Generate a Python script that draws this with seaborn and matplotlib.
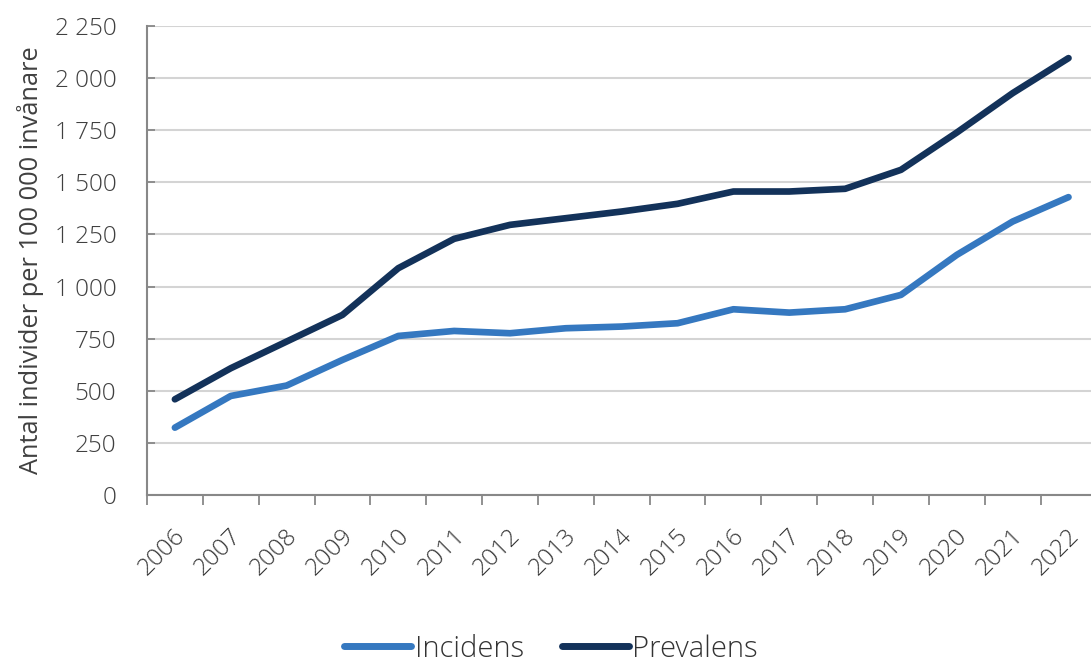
import matplotlib
matplotlib.use("Agg")
import matplotlib.pyplot as plt
import matplotlib.transforms as mtransforms
from matplotlib.ticker import FuncFormatter, FixedLocator
import seaborn as sns
import pandas as pd

years = list(range(2006, 2023))
incidens = [323, 475, 525, 648, 763, 787, 776, 800, 808, 824, 891, 875, 891, 960, 1152, 1312, 1429]
prevalens = [459, 608, 736, 864, 1088, 1229, 1296, 1328, 1360, 1397, 1456, 1456, 1469, 1560, 1739, 1928, 2096]
series_names = ["Incidens", "Prevalens"]
colors = {"Incidens": "#3578c0", "Prevalens": "#13325a"}
y_label = "Antal individer per 100 000 invånare"

df = pd.DataFrame({
    "pos": list(range(len(years))) * 2,
    "value": incidens + prevalens,
    "serie": [series_names[0]] * len(years) + [series_names[1]] * len(years),
})

sns.set_theme(style="white")
plt.rcParams["font.family"] = ["Open Sans", "DejaVu Sans"]
plt.rcParams["font.weight"] = 300

fig = plt.figure(figsize=(10.91, 6.62), dpi=100)
ax = fig.add_axes([0.1347, 0.2523, 0.8703, 0.7084])

sns.lineplot(data=df, x="pos", y="value", hue="serie", palette=colors,
             linewidth=4.8, ax=ax, legend=True, solid_capstyle="round")

ax.set_xlim(-0.5, len(years) - 0.5)
ax.set_ylim(0, 2250)
ax.set_yticks(range(0, 2251, 250))
ax.yaxis.set_major_formatter(FuncFormatter(lambda v, p: f"{int(v):,}".replace(",", " ")))
ax.grid(axis="y", color="#d4d4d4", linewidth=1.5)
ax.set_axisbelow(True)

# category labels at centres, tick marks at category boundaries
ax.set_xticks(range(len(years)))
ax.set_xticklabels([str(y) for y in years])
ax.xaxis.set_minor_locator(FixedLocator([i - 0.5 for i in range(len(years) + 1)]))
ax.tick_params(axis="x", which="major", length=0, pad=27, labelsize=17.5, colors="#3a3a3a")
ax.tick_params(axis="x", which="minor", bottom=True, length=7, width=1.3, color="#888888", direction="out")
offset = mtransforms.ScaledTranslation(7 / 100, 0, fig.dpi_scale_trans)
for lab in ax.get_xticklabels():
    lab.set_rotation(45)
    lab.set_ha("right")
    lab.set_va("center")
    lab.set_rotation_mode("anchor")
    lab.set_transform(lab.get_transform() + offset)

ax.tick_params(axis="y", which="major", left=True, length=6, width=1.3, color="#888888",
               direction="in", pad=22, labelsize=17.5, labelcolor="#404040")

for side in ["top", "right"]:
    ax.spines[side].set_visible(False)
for side in ["left", "bottom"]:
    ax.spines[side].set_color("#888888")
    ax.spines[side].set_linewidth(1.5)

ax.set_xlabel("")
ax.set_ylabel(y_label, fontsize=18.3, color="#404040")
ax.yaxis.set_label_coords(-0.108, 0.5)

leg = ax.legend(loc="center", bbox_to_anchor=(0.505, 0.02), bbox_transform=fig.transFigure,
                ncol=2, frameon=False, fontsize=21, handlelength=2.3, handletextpad=0.12,
                columnspacing=1.3)
for t in leg.get_texts():
    t.set_color("#333333")
for h in leg.get_lines():
    h.set_linewidth(5)
    h.set_solid_capstyle("round")

fig.savefig("out.png", dpi=100)
